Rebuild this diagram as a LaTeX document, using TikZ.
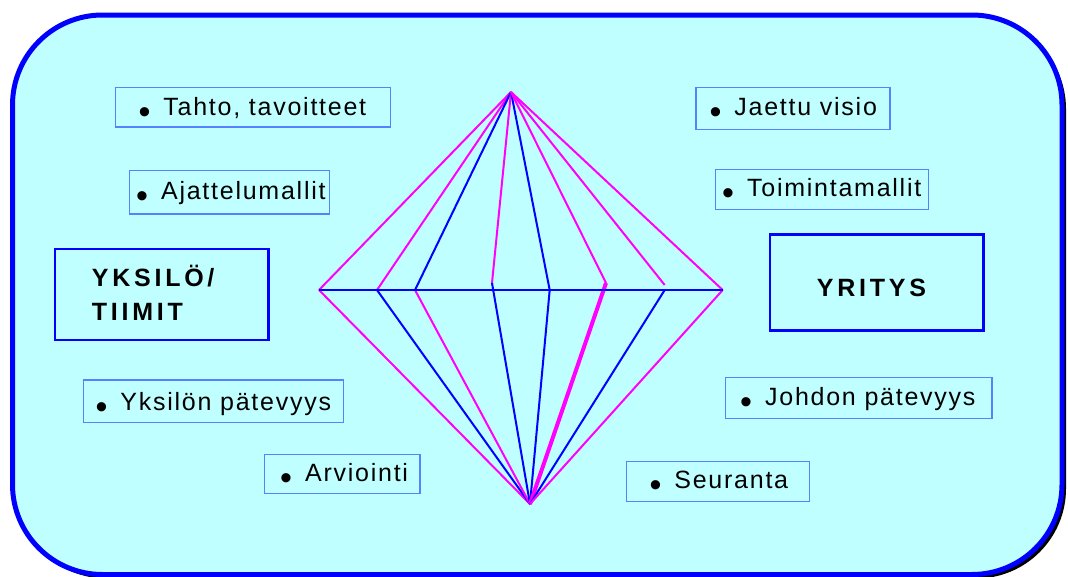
\documentclass[tikz,border=0pt]{standalone}
\usepackage{fontspec}
\setmainfont{Liberation Sans}
\definecolor{bgcyan}{RGB}{192,255,255}
\definecolor{pblue}{RGB}{0,0,255}
\definecolor{pmag}{RGB}{255,0,255}
\definecolor{lblue}{RGB}{85,130,255}
\newcommand\bulmark{\raisebox{-8pt}{\fontsize{34}{34}\selectfont\textbullet}\hspace{13pt}}
\begin{document}
\begin{tikzpicture}[x=1pt,y=-1pt,
  lbox/.style={draw=lblue, line width=1.5pt, inner sep=0pt, outer sep=0pt, anchor=north west},
  bbox/.style={draw=pblue, line width=2.5pt, inner sep=0pt, outer sep=0pt, anchor=north west},
  ltext/.style={inner sep=0pt, anchor=base west, font=\fontsize{25}{30}\selectfont\addfontfeature{LetterSpace=7}},
  btext/.style={inner sep=0pt, anchor=base west, align=left, font=\fontsize{25}{34}\selectfont\bfseries\addfontfeature{LetterSpace=15}},
  mline/.style={pmag, line width=2pt},
  bline/.style={pblue, line width=2pt}]
\useasboundingbox (0,0) rectangle (1068,576);
% frame with shadow
\fill[black, rounded corners=90pt] (16.5,19) rectangle (1066,578.5);
\draw[pblue, line width=5pt, fill=bgcyan, rounded corners=90pt] (12.5,15) rectangle (1062,574.5);
% diamond
\coordinate (T) at (511,92);
\coordinate (B) at (530,504);
\coordinate (m1) at (319,290);
\coordinate (m2) at (377,290);
\coordinate (m3) at (415,290);
\coordinate (m4) at (492,290);
\coordinate (m4u) at (492,283);
\coordinate (m5) at (549.7,290);
\coordinate (m6) at (606,290);
\coordinate (m6u) at (606,283);
\coordinate (m7) at (664.7,290);
\coordinate (m7u) at (664.7,285);
\coordinate (m8) at (722.7,290);
\draw[mline] (T) -- (m1);
\draw[mline] (T) -- (m2);
\draw[bline] (T) -- (m3);
\draw[mline] (T) -- (m4u);
\draw[bline] (T) -- (m5);
\draw[mline] (T) -- (m6u);
\draw[mline] (T) -- (m7u);
\draw[mline] (T) -- (m8);
\draw[mline] (B) -- (m1);
\draw[bline] (B) -- (m2);
\draw[mline] (B) -- (m3);
\draw[bline] (B) -- (m4u);
\draw[bline] (B) -- (m5);
\draw[pmag, line width=4pt] (B) -- (m6u);
\draw[bline] (B) -- (m7);
\draw[mline] (B) -- (m8);
\draw[bline] (m1) -- (m8);
% label boxes
\node[lbox, minimum width=275pt, minimum height=39.7pt] (b1) at (115.3,87.3) {};
\node[ltext] (t1) at (138.3,115) {\bulmark Tahto, tavoitteet};
\node[lbox, minimum width=200.4pt, minimum height=43.3pt] (b2) at (129.3,170.7) {};
\node[ltext] (t2) at (136,199) {\bulmark Ajattelumallit};
\node[lbox, minimum width=194pt, minimum height=42pt] (b3) at (696,87.3) {};
\node[ltext] (t3) at (709.3,115) {\bulmark Jaettu visio};
\node[lbox, minimum width=213.4pt, minimum height=40pt] (b4) at (715.3,169.3) {};
\node[ltext] (t4) at (722,196.7) {\bulmark Toimintamallit};
\node[lbox, minimum width=260pt, minimum height=42.7pt] (b5) at (83.3,380) {};
\node[ltext] (t5) at (95.3,410.7) {\bulmark Yksilön pätevyys};
\node[lbox, minimum width=155.7pt, minimum height=38.6pt] (b6) at (264.3,454.7) {};
\node[ltext] (t6) at (280,481.7) {\bulmark Arviointi};
\node[lbox, minimum width=266.3pt, minimum height=41pt] (b7) at (725.7,377.3) {};
\node[ltext] (t7) at (740,405) {\bulmark Johdon pätevyys};
\node[lbox, minimum width=182.6pt, minimum height=40.4pt] (b8) at (626.7,461.3) {};
\node[ltext] (t8) at (649.3,488.3) {\bulmark Seuranta};
% big boxes
\node[bbox, minimum width=213.3pt, minimum height=91pt] (yk) at (55,249) {};
\node[btext] (ykt) at (91.7,320.7) {YKSILÖ/\\TIIMIT};
\node[bbox, minimum width=213.3pt, minimum height=96.4pt] (yr) at (770,234.3) {};
\node[btext] (yrt) at (816.7,296) {YRITYS};
\end{tikzpicture}
\end{document}
